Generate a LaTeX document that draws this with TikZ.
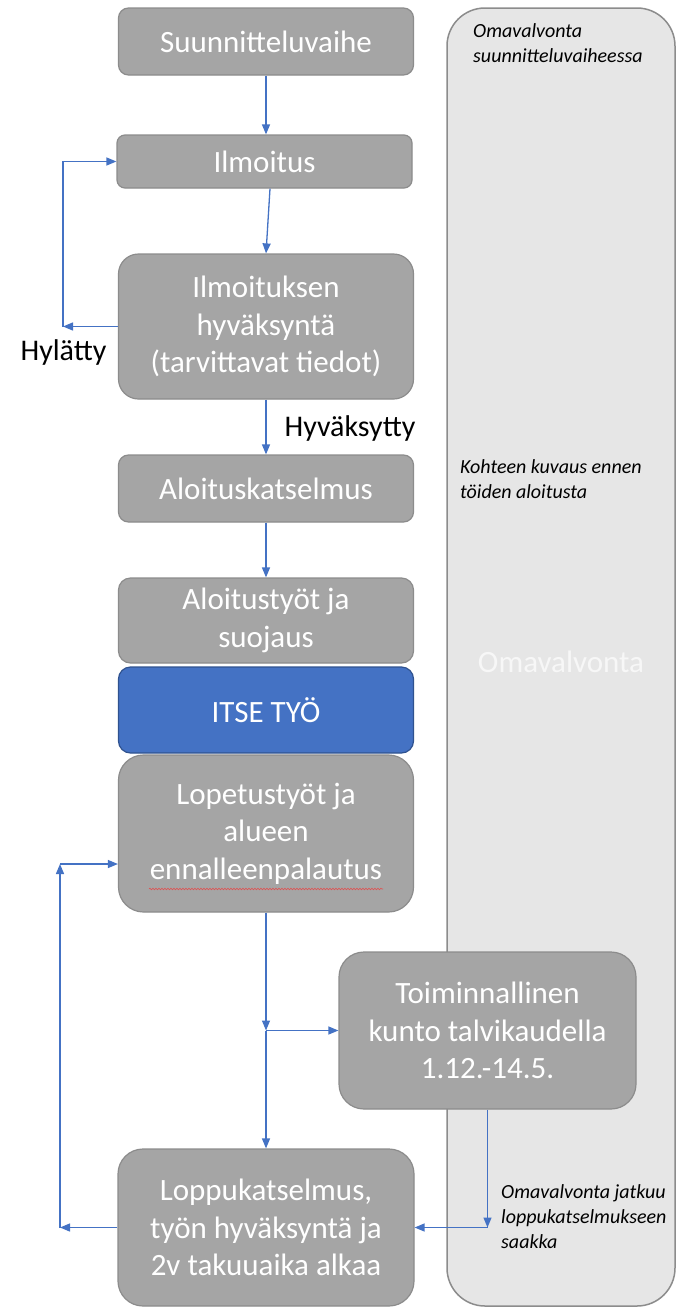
\documentclass[tikz,border=0pt]{standalone}
\usepackage{fontspec}
\setmainfont{Carlito}
\usetikzlibrary{arrows.meta,decorations.pathmorphing}
\definecolor{boxgray}{HTML}{A5A5A5}
\definecolor{boxedge}{HTML}{8C8C8C}
\definecolor{blu}{HTML}{4472C4}
\definecolor{bluedge}{HTML}{2F528F}
\definecolor{panel}{HTML}{E6E6E6}
\definecolor{paneledge}{HTML}{8C8C8C}
\definecolor{spell}{HTML}{E05050}
\begin{document}
\begin{tikzpicture}[x=1pt,y=-1pt,
  stepbox/.style={draw=boxedge, line width=1.2pt, fill=boxgray, text=white, align=center,
    font=\fontsize{31}{37.5}\selectfont, inner sep=0pt, minimum width=295pt},
  arr/.style={draw=blu, line width=1.3pt, -{Triangle[length=10pt,width=8pt]}},
  lab/.style={font=\fontsize{30}{36}\selectfont, text=black, inner sep=0pt},
  note/.style={font=\itshape\fontsize{20}{25}\selectfont, align=left, anchor=west, inner sep=0pt, text=black}]
\useasboundingbox (0,0) rectangle (679,1309);
\fill[white] (0,0) rectangle (679,1309);

% side panel
\node[draw=paneledge, fill=panel, line width=1.5pt, rounded corners=38pt,
  minimum width=228pt, minimum height=1298pt, inner sep=0pt] (om) at (561,657) {};
\node[note] (n1) at (473,43) {Omavalvonta\\suunnitteluvaiheessa};
\node[note] (n2) at (460,479.5) {Kohteen kuvaus ennen\\töiden aloitusta};
\node[font=\fontsize{31}{37}\selectfont, text=white!97!black, inner sep=0pt] (omlab) at (561,662) {Omavalvonta};
\node[note] (n3) at (501,1217) {Omavalvonta jatkuu\\loppukatselmukseen\\saakka};

% steps
\node[stepbox, rounded corners=10pt, minimum height=67pt] (s1) at (266,41.5) {Suunnitteluvaihe};
\node[stepbox, rounded corners=8pt, minimum height=53pt] (s2) at (264.5,161.5) {Ilmoitus};
\node[stepbox, rounded corners=20pt, minimum height=145pt] (s3) at (266,326.5) {Ilmoituksen\\hyväksyntä\\(tarvittavat tiedot)};
\node[stepbox, rounded corners=10pt, minimum height=67pt] (s4) at (266,488.5) {Aloituskatselmus};
\node[stepbox, rounded corners=12pt, minimum height=85pt] (s5) at (266,620.5) {Aloitustyöt ja\\suojaus};
\node[stepbox, rounded corners=12pt, minimum height=86pt, fill=blu, draw=bluedge] (s6) at (266,710) {ITSE TYÖ};
\node[stepbox, rounded corners=25pt, minimum height=157pt] (s7) at (266,833.5) {Lopetustyöt ja\\alueen\\ennalleenpalautus};
\node[stepbox, rounded corners=25pt, minimum height=157pt, minimum width=297pt] (s8) at (487.5,1030.5) {Toiminnallinen\\kunto talvikaudella\\1.12.-14.5.};
\node[stepbox, rounded corners=25pt, minimum height=157pt, minimum width=296pt] (s9) at (266,1227.5) {Loppukatselmus,\\työn hyväksyntä ja\\2v takuuaika alkaa};

% spell-check underline
\draw[spell, line width=0.6pt, decorate, decoration={snake, amplitude=0.8pt, segment length=3pt}] (149,889) -- (383,889);

% labels
\node[lab] (hyl) at (63.5,352) {Hylätty};
\node[lab] (hyv) at (350,428) {Hyväksytty};

% connectors
\coordinate (h1) at (63,326.5);
\coordinate (j) at (266,1030.5);
\coordinate (l1) at (60,1227.5);
\coordinate (l2) at (60,864);
\coordinate (r1) at (s8.south |- s9.east);

\draw[arr] (s1.south) -- (s1.south |- s2.north);
\draw[arr] ([xshift=5.5pt]s2.south) -- (s3.north);
\draw[arr] (s3.west) -- (h1);
\draw[arr] (h1) |- (s2.west);
\draw[arr] (s3.south) -- (s4.north);
\draw[arr] (s4.south) -- (s5.north);
\draw[arr] (s7.south) -- (j);
\draw[arr] (j) -- (s8.west);
\draw[arr] (j) -- (s9.north);
\draw[arr] (s9.west) -- (l1);
\draw[arr] (l1) -- (l2);
\draw[arr] (l2) -- (l2 -| s7.west);
\draw[arr] (s8.south) -- (r1);
\draw[arr] (r1) -- (s9.east);
\end{tikzpicture}
\end{document}
